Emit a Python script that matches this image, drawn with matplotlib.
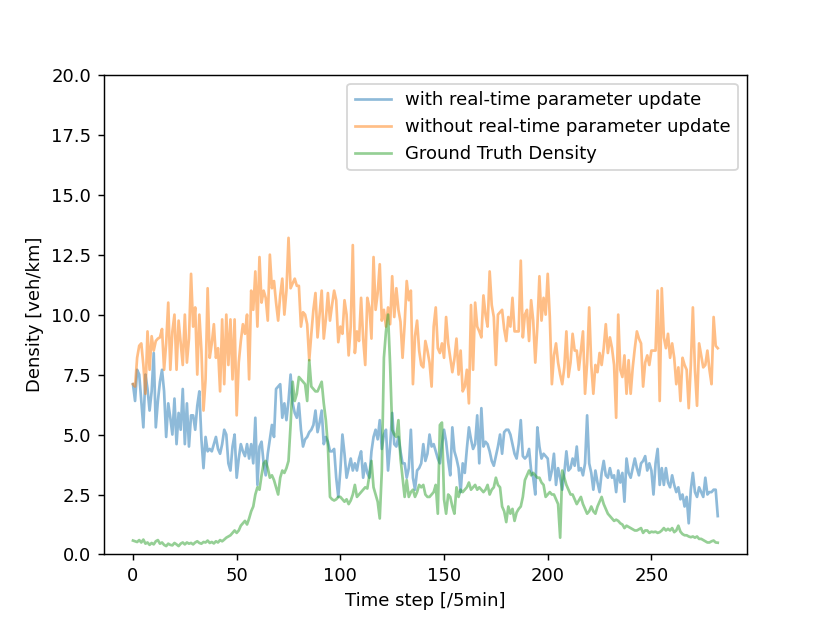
import numpy as np
import matplotlib
matplotlib.use("Agg")
import matplotlib.pyplot as plt

# density estimates per 5-min step
with_update = [
    7.1, 6.4, 7.7, 7.5, 6.4, 5.3, 7.5, 6.9, 6.0, 6.8,
    8.4, 5.3, 6.4, 7.2, 7.7, 6.8, 4.9, 6.3, 5.7, 5.0,
    6.5, 4.6, 5.9, 5.2, 6.9, 4.6, 6.3, 4.5, 5.8, 5.8,
    5.2, 6.2, 6.8, 4.8, 3.6, 4.9, 4.3, 4.4, 4.3, 4.6,
    4.9, 4.4, 4.2, 4.6, 5.2, 5.0, 3.8, 3.5, 4.5, 5.0,
    3.2, 4.0, 4.6, 4.3, 4.1, 4.6, 4.0, 4.6, 3.8, 5.7,
    2.9, 4.5, 4.7, 3.8, 3.3, 4.2, 4.8, 5.4, 4.9, 6.9,
    7.0, 7.1, 5.7, 6.3, 5.6, 6.4, 7.5, 6.3, 5.9, 5.7,
    6.3, 5.2, 4.5, 4.8, 4.9, 5.1, 5.2, 5.4, 6.0, 5.1,
    5.5, 6.0, 4.6, 4.9, 4.7, 4.3, 4.3, 4.4, 3.2, 2.4,
    3.5, 5.0, 4.2, 3.2, 3.6, 4.0, 3.5, 3.8, 3.5, 4.0,
    4.3, 3.2, 3.8, 3.4, 3.2, 4.3, 4.9, 5.2, 4.8, 5.6,
    4.4, 5.0, 5.2, 3.5, 4.5, 5.9, 4.6, 4.5, 4.9, 4.3,
    3.8, 3.8, 3.2, 3.6, 5.2, 3.2, 2.7, 3.5, 3.6, 3.8,
    4.6, 3.9, 4.2, 5.0, 4.5, 4.6, 4.3, 4.0, 3.8, 4.6,
    5.2, 4.7, 3.9, 3.3, 5.3, 4.3, 4.0, 3.6, 2.6, 3.8,
    3.4, 4.4, 5.3, 4.8, 4.4, 4.6, 5.8, 3.8, 6.1, 4.5,
    4.7, 4.6, 4.3, 3.9, 3.7, 4.1, 4.5, 5.0, 4.2, 5.1,
    5.2, 5.2, 5.0, 4.6, 4.2, 4.0, 4.6, 5.6, 4.1, 4.0,
    4.1, 4.4, 3.5, 3.2, 2.5, 5.3, 4.5, 4.0, 4.2, 4.1,
    4.0, 3.1, 3.5, 4.2, 2.9, 3.6, 3.2, 2.7, 3.4, 4.3,
    3.5, 3.6, 4.0, 3.7, 4.5, 3.5, 3.6, 3.3, 3.8, 5.8,
    3.8, 3.4, 2.7, 3.5, 3.0, 2.6, 3.4, 3.9, 3.3, 3.2,
    3.6, 3.2, 3.3, 2.6, 3.5, 3.0, 3.4, 2.2, 4.0, 3.4,
    3.2, 3.6, 4.0, 3.6, 3.3, 3.8, 3.9, 4.1, 3.5, 3.8,
    3.5, 2.5, 3.8, 4.4, 2.9, 3.6, 2.9, 3.6, 3.0, 2.8,
    3.3, 2.9, 2.6, 2.8, 2.3, 2.5, 2.0, 2.4, 1.3, 2.7,
    3.4, 2.6, 2.4, 2.8, 2.6, 2.4, 3.2, 2.5, 2.6, 2.6,
    2.7, 2.7, 1.6,
]

without_update = [
    7.1, 7.0, 8.2, 8.7, 8.8, 7.9, 6.7, 9.3, 7.7, 9.1,
    8.5, 8.9, 9.0, 9.05, 9.4, 7.7, 8.8, 10.5, 7.7, 9.3,
    10.0, 7.7, 9.75, 8.8, 7.9, 10.0, 8.0, 9.0, 11.7, 9.5,
    10.3, 7.5, 10.0, 8.5, 6.0, 7.3, 11.1, 8.2, 8.8, 9.6,
    8.2, 8.6, 6.8, 9.8, 7.1, 10.0, 7.9, 9.8, 7.3, 9.8,
    5.8, 8.0, 8.9, 9.6, 9.2, 10.0, 7.3, 11.0, 10.2, 11.8,
    9.5, 12.4, 10.5, 11.0, 10.7, 9.75, 12.5, 11.1, 11.4, 10.5,
    9.75, 10.8, 11.5, 10.0, 11.0, 13.2, 11.1, 11.3, 11.5, 11.2,
    11.2, 9.5, 10.1, 10.0, 9.6, 8.1, 9.2, 10.2, 10.9, 9.05,
    10.0, 11.0, 9.0, 9.8, 10.9, 9.75, 10.4, 11.0, 10.6, 8.85,
    9.5, 9.2, 10.6, 10.0, 8.3, 9.5, 12.9, 8.4, 9.3, 8.9,
    10.7, 9.0, 7.9, 10.7, 10.3, 9.0, 12.4, 10.2, 10.9, 12.1,
    9.75, 10.2, 9.5, 10.3, 9.6, 11.6, 9.9, 11.1, 10.2, 9.7,
    8.2, 9.6, 11.4, 10.6, 11.0, 7.1, 9.1, 9.75, 8.5, 7.9,
    7.8, 8.9, 8.5, 8.0, 7.0, 9.5, 10.3, 8.6, 8.4, 8.8,
    8.2, 9.9, 8.8, 8.2, 7.6, 8.15, 9.0, 7.5, 8.5, 6.8,
    7.0, 7.7, 6.3, 10.4, 7.7, 10.5, 9.5, 9.3, 9.05, 10.8,
    10.0, 9.5, 11.8, 10.4, 9.9, 7.9, 10.0, 10.1, 10.2, 9.4,
    8.9, 9.9, 9.5, 10.7, 9.3, 9.3, 9.3, 12.25, 9.05, 10.0,
    10.2, 8.9, 10.6, 9.75, 8.0, 9.5, 11.6, 9.75, 10.7, 10.0,
    11.7, 9.9, 7.1, 8.3, 8.8, 8.0, 7.5, 7.1, 7.8, 9.3,
    7.4, 8.0, 9.2, 8.5, 8.5, 7.7, 8.5, 9.3, 6.7, 8.0,
    10.3, 7.9, 6.7, 7.9, 7.6, 8.4, 7.9, 8.6, 9.6, 8.4,
    9.05, 8.6, 7.9, 5.7, 10.0, 7.7, 7.4, 8.3, 6.7, 8.1,
    6.7, 7.8, 8.6, 9.3, 9.0, 8.8, 7.0, 8.0, 8.3, 7.9,
    8.5, 8.5, 8.5, 11.0, 6.4, 11.1, 9.05, 8.6, 9.2, 8.2,
    8.8, 8.2, 7.1, 7.8, 6.4, 8.2, 7.9, 7.7, 6.1, 7.9,
    10.3, 7.7, 6.2, 8.8, 8.3, 7.8, 7.9, 8.5, 7.7, 7.1,
    9.9, 8.7, 8.6,
]

ground_truth = [
    0.58, 0.55, 0.52, 0.6, 0.5, 0.62, 0.45, 0.5, 0.4, 0.48,
    0.42, 0.55, 0.6, 0.45, 0.5, 0.4, 0.35, 0.45, 0.4, 0.38,
    0.48, 0.42, 0.35, 0.45, 0.5, 0.42, 0.5, 0.45, 0.48, 0.42,
    0.5, 0.55, 0.48, 0.45, 0.52, 0.5, 0.58, 0.48, 0.52, 0.46,
    0.55, 0.5, 0.6, 0.55, 0.62, 0.7, 0.75, 0.8, 0.9, 1.0,
    0.9, 1.0, 1.2, 1.3, 1.4, 1.25, 1.5, 1.8, 2.0, 2.5,
    2.8, 2.7, 3.3, 3.8, 3.9, 3.6, 3.2, 3.3, 3.1, 2.8,
    2.5, 3.2, 3.5, 3.4, 3.6, 3.9, 5.4, 7.2, 6.4, 6.7,
    7.4, 7.3, 7.2, 7.1, 6.4, 8.1, 7.0, 6.9, 6.8, 6.8,
    7.0, 7.2, 6.3, 5.6, 4.5, 2.4, 2.3, 2.25, 2.3, 2.4,
    2.4, 2.3, 2.2, 2.3, 2.1, 2.25, 2.5, 2.9, 2.4, 2.5,
    2.6, 2.7, 2.8, 2.75, 3.3, 3.9, 2.8, 2.5, 2.2, 1.5,
    3.5, 8.2, 9.3, 10.0, 7.9, 5.2, 5.0, 4.9, 5.6, 4.0,
    3.2, 2.4, 3.1, 2.4, 2.6, 2.7, 2.4, 2.6, 2.9, 2.8,
    2.9, 2.5, 2.4, 2.4, 2.5, 2.6, 2.9, 1.7, 5.4, 5.5,
    2.3, 1.7, 2.5, 2.4, 2.0, 1.7, 2.8, 2.4, 2.7, 2.6,
    2.7, 2.8, 3.0, 2.7, 2.8, 2.9, 2.7, 2.8, 2.7, 2.6,
    2.7, 2.9, 2.5, 2.7, 2.8, 3.2, 2.9, 2.8, 2.0, 1.8,
    1.35, 2.0, 1.7, 1.9, 1.4, 1.75, 1.9, 2.0, 2.4, 3.1,
    3.3, 3.5, 3.3, 3.4, 3.3, 3.2, 3.2, 3.0, 2.9, 2.4,
    2.5, 2.6, 2.5, 2.5, 2.3, 2.1, 0.7, 3.5, 3.2, 2.9,
    2.7, 2.5, 2.5, 2.3, 2.1, 2.25, 2.4, 2.1, 1.9, 1.7,
    1.8, 2.0, 1.8, 1.7, 2.0, 2.2, 2.4, 2.1, 1.9, 1.7,
    1.6, 1.5, 1.4, 1.45, 1.4, 1.3, 1.25, 1.1, 1.2, 1.15,
    1.1, 1.05, 1.0, 1.0, 1.05, 1.1, 0.9, 1.0, 1.0, 0.9,
    0.95, 0.93, 0.95, 0.9, 0.93, 1.0, 1.1, 1.0, 1.07, 1.0,
    1.1, 0.93, 1.0, 1.2, 0.95, 0.85, 0.8, 0.8, 0.75, 0.72,
    0.75, 0.7, 0.75, 0.65, 0.65, 0.6, 0.55, 0.5, 0.5, 0.55,
    0.58, 0.5, 0.49,
]

print(len(with_update), len(without_update), len(ground_truth))

fig, ax = plt.subplots(figsize=(8.3 / 1.3, 6.23 / 1.3), dpi=130)
ax.plot(np.arange(len(with_update)), with_update, alpha=0.5,
        label="with real-time parameter update")
ax.plot(np.arange(len(without_update)), without_update, alpha=0.5,
        label="without real-time parameter update")
ax.plot(np.arange(len(ground_truth)), ground_truth, alpha=0.5,
        label="Ground Truth Density")
ax.set_ylim(0, 20)
ax.set_xlabel("Time step [/5min]")
ax.set_ylabel("Density [veh/km]")
ax.legend(loc="upper right")
fig.savefig("out.png")
